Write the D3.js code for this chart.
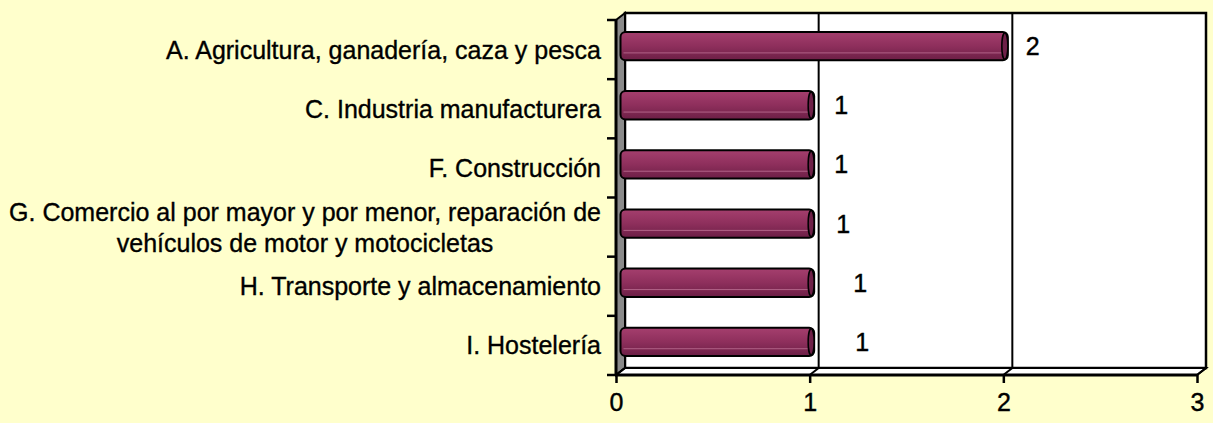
<!DOCTYPE html>
<html>
<head>
<meta charset="utf-8">
<script src="https://cdn.jsdelivr.net/npm/d3@7"></script>
<style>
  body { margin: 0; background: #ffffcc; }
  svg { display: block; font-family: "Liberation Sans", Arial, Helvetica, sans-serif; }
</style>
</head>
<body>
<div id="viz"></div>
<script>

// data
var categories = [
	"A. Agricultura, ganadería, caza y pesca",
	"C. Industria manufacturera",
	"F. Construcción",
	"G. Comercio al por mayor y por menor, reparación de|vehículos de motor y motocicletas",
	"H. Transporte y almacenamiento",
	"I. Hostelería"
];
var values = [2, 1, 1, 1, 1, 1];
var xTicks = [0, 1, 2, 3];

// where the value labels sit past the bar end (px), as in the original
var labelGap = [18, 20, 20, 22, 39, 41];

var width = 1213, height = 423;
var dx = 9, dy = -7; // depth of the 3d box

var svg = d3.select("#viz")
	.append("svg")
	.attr("width", width)
	.attr("height", height);

svg.append("rect")
	.attr("width", width)
	.attr("height", height)
	.attr("fill", "#ffffcc");

var x = d3.scaleLinear().domain([0, 3]).range([616, 1197]);
var y = d3.scaleBand().domain(categories).range([20, 375]).paddingInner(0.52).paddingOuter(0.26);

var x0 = x(0), x1 = x(3), yTop = 20, yBot = 375;

var defs = svg.append("defs");
var grad = defs.append("linearGradient")
	.attr("id", "barGrad")
	.attr("x1", 0).attr("y1", 0).attr("x2", 0).attr("y2", 1);
grad.append("stop").attr("offset", "0%").attr("stop-color", "#a53f6e");
grad.append("stop").attr("offset", "50%").attr("stop-color", "#8e2f5c");
grad.append("stop").attr("offset", "100%").attr("stop-color", "#6c1f46");

// back wall
svg.append("rect")
	.attr("x", x0 + dx)
	.attr("y", yTop + dy)
	.attr("width", x1 - x0)
	.attr("height", yBot - yTop)
	.attr("fill", "#ffffff")
	.attr("stroke", "#000")
	.attr("stroke-width", 2.5);

// gridlines on the back wall
svg.selectAll("line.grid")
	.data(xTicks.slice(1, -1))
	.enter()
	.append("line")
	.attr("class", "grid")
	.attr("x1", d => x(d) + dx)
	.attr("x2", d => x(d) + dx)
	.attr("y1", yTop + dy)
	.attr("y2", yBot + dy)
	.attr("stroke", "#000")
	.attr("stroke-width", 2);

// left wall
svg.append("polygon")
	.attr("points", [[x0, yTop], [x0 + dx, yTop + dy], [x0 + dx, yBot + dy], [x0, yBot]].join(" "))
	.attr("fill", "#8a8a8a")
	.attr("stroke", "#000")
	.attr("stroke-width", 2);

// floor
svg.append("polygon")
	.attr("points", [[x0, yBot], [x0 + dx, yBot + dy], [x1 + dx, yBot + dy], [x1, yBot]].join(" "))
	.attr("fill", "#ffffff")
	.attr("stroke", "#000")
	.attr("stroke-width", 2);

svg.selectAll("line.floor")
	.data(xTicks)
	.enter()
	.append("line")
	.attr("class", "floor")
	.attr("x1", d => x(d))
	.attr("x2", d => x(d) + dx)
	.attr("y1", yBot)
	.attr("y2", yBot + dy)
	.attr("stroke", "#000")
	.attr("stroke-width", 2);

// bottom axis
var xAxis = svg.append("g")
	.attr("transform", "translate(0," + yBot + ")")
	.call(d3.axisBottom(x).tickValues(xTicks).tickFormat(d3.format("d")).tickSize(8).tickPadding(10));
xAxis.select(".domain").attr("stroke-width", 3).attr("d", "M" + x0 + ",0H" + x1);
xAxis.selectAll(".tick line").attr("stroke-width", 2.5);
xAxis.selectAll(".tick text")
	.attr("font-size", 25)
	.attr("font-family", "Liberation Sans, Arial, sans-serif")
	.attr("fill", "#000")
	.attr("stroke", "#000")
	.attr("stroke-width", 0.4);

// left axis with ticks between categories
var step = y.step();
var bounds = categories.map(c => y(c) - step * y.paddingInner() / 2);
bounds.push(yBot);
svg.append("line")
	.attr("x1", x0).attr("x2", x0)
	.attr("y1", yTop).attr("y2", yBot)
	.attr("stroke", "#000").attr("stroke-width", 3);
svg.selectAll("line.ytick")
	.data(bounds)
	.enter()
	.append("line")
	.attr("class", "ytick")
	.attr("x1", x0 - 9).attr("x2", x0)
	.attr("y1", d => d).attr("y2", d => d)
	.attr("stroke", "#000").attr("stroke-width", 2.5);

// bars
var bh = y.bandwidth();
var bars = svg.selectAll("g.bar")
	.data(categories)
	.enter()
	.append("g")
	.attr("class", "bar")
	.attr("transform", d => "translate(0," + (y(d) + dy / 2) + ")");

bars.append("rect")
	.attr("x", x0 + dx / 2)
	.attr("y", 0)
	.attr("width", (d, i) => x(values[i]) - x0)
	.attr("height", bh)
	.attr("rx", 5)
	.attr("fill", "url(#barGrad)")
	.attr("stroke", "#000")
	.attr("stroke-width", 2);

bars.append("line")
	.attr("x1", x0 + dx / 2 + 3)
	.attr("x2", (d, i) => x(values[i]) + dx / 2 - 4)
	.attr("y1", bh * 0.74)
	.attr("y2", bh * 0.74)
	.attr("stroke", "#d48aab")
	.attr("stroke-opacity", 0.6)
	.attr("stroke-width", 1);

bars.append("ellipse")
	.attr("cx", (d, i) => x(values[i]) + dx / 2 - 3)
	.attr("cy", bh / 2)
	.attr("rx", 3)
	.attr("ry", bh / 2 - 1)
	.attr("fill", "#6e2048")
	.attr("stroke", "#000")
	.attr("stroke-width", 1.5);

// value labels
bars.append("text")
	.attr("x", (d, i) => x(values[i]) + dx / 2 + labelGap[i])
	.attr("y", bh / 2)
	.attr("dy", "0.36em")
	.attr("font-size", 25)
	.attr("stroke", "#000")
	.attr("stroke-width", 0.4)
	.text((d, i) => values[i]);

// category labels
var labels = svg.selectAll("text.cat")
	.data(categories)
	.enter()
	.append("text")
	.attr("class", "cat")
	.attr("font-size", 25)
	.attr("fill", "#000")
	.attr("stroke", "#000")
	.attr("stroke-width", 0.35);

labels.each(function(d) {
	var lines = d.split("|");
	var t = d3.select(this);
	var cy = y(d) + bh / 2;
	lines.forEach((l, k) => {
		t.append("tspan")
			.attr("y", cy + (k - (lines.length - 1) / 2) * 31)
			.attr("dy", "0.36em")
			.text(l);
	});
	var w = d3.max(t.selectAll("tspan").nodes(), n => n.getComputedTextLength());
	t.attr("text-anchor", "middle")
		.selectAll("tspan").attr("x", 601 - w / 2);
});

</script>
</body>
</html>
